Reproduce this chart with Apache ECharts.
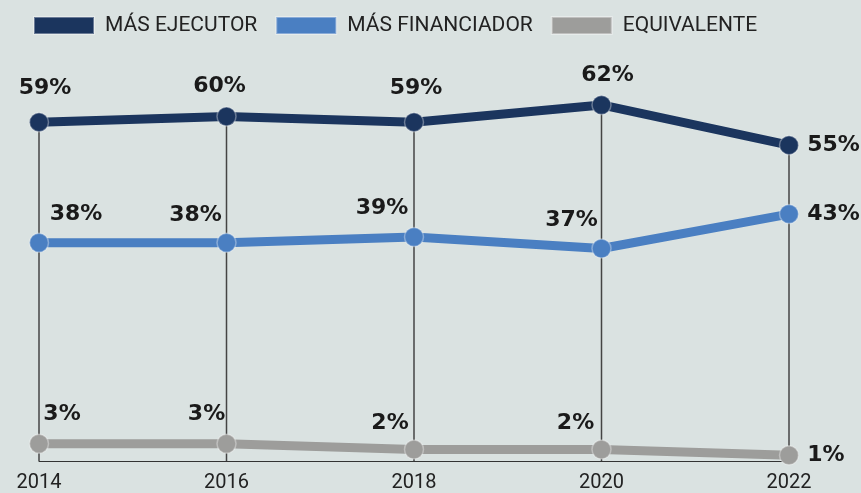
<!DOCTYPE html>
<head>
  <meta charset="utf-8">
  <title>Ejecutor / Financiador</title>
  <script src="https://cdn.jsdelivr.net/npm/echarts@6/dist/echarts.min.js"></script>
  <style>
    html, body { margin: 0; padding: 0; background: #dae2e1; }
    #box { width: 861px; height: 493px; }
  </style>
</head>
<body>
<div id="box"></div>
<script>
var years = ['2014', '2016', '2018', '2020', '2022'];
var ejecutor = [59, 60, 59, 62, 55];
var financiador = [38, 38, 39, 37, 43];
var equivalente = [3, 3, 2, 2, 1];

// desplazamiento de etiquetas (centro de la etiqueta respecto al punto)
var offEje = [[6, -34], [-7, -30], [2, -34], [6, -30], null];
var offFin = [[37, -28], [-31, -27], [-32, -29], [-30, -28], null];
var offEqu = [[23, -29], [-20, -29], [-24, -26], [-26, -26], null];

function puntos(vals, offs) {
  return vals.map(function (v, i) {
    var o = offs[i];
    if (!o) return { value: v, label: { position: 'right', distance: 8 } };
    return { value: v, label: { position: 'inside', offset: o } };
  });
}

function serie(name, color, vals, offs, z) {
  return {
    name: name,
    type: 'line',
    z: z,
    data: puntos(vals, offs),
    symbol: 'circle',
    symbolSize: 19,
    lineStyle: { color: color, width: 9 },
    itemStyle: { color: color, borderColor: 'rgba(255,255,255,0.35)', borderWidth: 1.5 },
    label: {
      show: true,
      formatter: '{c}%',
      color: '#1a1a1a',
      fontFamily: 'DejaVu Sans',
      fontWeight: 'bold',
      fontSize: 22
    },
    emphasis: { disabled: true }
  };
}

var myChart = echarts.init(document.getElementById('box'));
myChart.setOption({
  backgroundColor: '#dae2e1',
  animation: false,
  legend: {
    left: 33, top: 15, padding: 0,
    icon: 'rect', itemWidth: 60, itemHeight: 17, itemGap: 18,
    data: ['MÁS EJECUTOR', 'MÁS FINANCIADOR', 'EQUIVALENTE'],
    textStyle: { fontFamily: 'Roboto', fontSize: 21, color: '#222', padding: [0, 0, 0, 6] }
  },
  grid: { left: 39, right: 72, top: 59, bottom: 30 },
  xAxis: {
    type: 'category',
    data: years,
    boundaryGap: false,
    axisLine: { lineStyle: { color: '#333', width: 1 } },
    axisTick: { show: false },
    axisLabel: { fontFamily: 'Roboto', fontSize: 20, color: '#222', margin: 12 }
  },
  yAxis: {
    type: 'value', min: 0, max: 70,
    show: false,
    splitLine: { show: false }
  },
  series: [
    {
      name: 'guia',
      type: 'bar',
      barWidth: 1.5,
      z: 1,
      data: ejecutor,
      itemStyle: { color: '#444' },
      silent: true
    },
    serie('EQUIVALENTE', '#9d9d9b', equivalente, offEqu, 2),
    serie('MÁS FINANCIADOR', '#4a7fc2', financiador, offFin, 3),
    serie('MÁS EJECUTOR', '#1b355e', ejecutor, offEje, 4)
  ]
});
</script>
</body>
</html>
